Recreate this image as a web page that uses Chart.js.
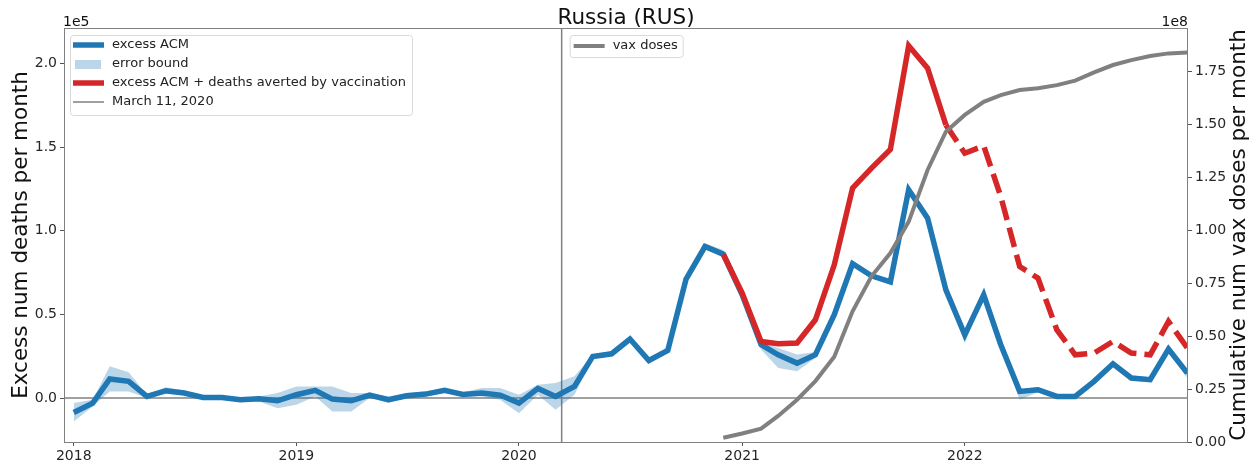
<!DOCTYPE html>
<html>
<head>
<meta charset="utf-8">
<script src="https://cdn.jsdelivr.net/npm/chart.js@4.4.0/dist/chart.umd.min.js"></script>
<style>
  html, body { margin: 0; padding: 0; background: #fff; }
</style>
</head>
<body>
<canvas id="chart" width="1259" height="466"></canvas>
<script>
// monthly points, Jan 2018 .. Jan 2023
const months = [];
for (let i = 0; i < 61; i++) {
    const y = 2018 + Math.floor(i / 12), m = i % 12 + 1;
    months.push(y + '-' + String(m).padStart(2, '0'));
}

const excessACM = [
    -8600, -3000, 11400, 10000, 1000, 4400, 3000, 400, 400, -1000, -400, -1600,
    2000, 4600, -600, -1600, 1800, -1000, 1400, 2400, 4600, 2200, 3000, 1800,
    -3000, 5800, 1000, 7000, 24900, 26500, 35300, 22500, 28500, 71100, 90600, 86000,
    61700, 31900, 25900, 20900, 25900, 49800, 80300, 73100, 69500, 124500, 107600, 64700,
    37800, 61700, 31900, 4000, 5000, 1000, 1000, 10000, 20500, 12000, 11000, 29300, 14900
];
const errLower = [
    -14000, -5000, 4000, 4000, 0, 2500, 2000, -500, -500, -2000, -2000, -6000,
    -4000, 1000, -8000, -8000, 0, -3000, 0, 1000, 3000, 1000, 1000, -1000,
    -9000, 2000, -7000, 2000, 23500, 25000, 34000, 21000, 27000, 70000, 89000, 84000,
    60000, 29000, 18000, 16000, 24000, 48500, 79000, 72000, 68000, 123000, 106000, 63000,
    33000, 60000, 30000, -1000, 3500, -500, -500, 8500, 19000, 10500, 9500, 27000, 12000
];
const errUpper = [
    -3000, -1000, 19000, 15500, 2000, 6500, 4500, 1500, 1500, 0, 1000, 3000,
    7000, 7000, 7000, 3000, 3000, 1000, 3000, 3500, 6000, 3500, 6000, 6000,
    2000, 8000, 9000, 13000, 26000, 28000, 36500, 24000, 30000, 72500, 92500, 88500,
    64000, 34000, 30000, 26000, 27500, 51000, 81500, 74500, 71000, 126000, 109000, 66500,
    39000, 63000, 33500, 5500, 6500, 2500, 2500, 11500, 22000, 13500, 12500, 32000, 17000
];
const withAverted = [
    null, null, null, null, null, null, null, null, null, null, null, null,
    null, null, null, null, null, null, null, null, null, null, null, null,
    null, null, null, null, null, null, null, null, null, null, null, 86000,
    62700, 33900, 32500, 32900, 46800, 79700, 125500, 137500, 148600, 210600, 197200, 163300,
    146400, 150800, 120500, 78700, 71700, 40800, 25900, 26900, 33900, 26900, 25900, 45800, 29900
];
const vaxDoses = [
    null, null, null, null, null, null, null, null, null, null, null, null,
    null, null, null, null, null, null, null, null, null, null, null, null,
    null, null, null, null, null, null, null, null, null, null, null, 2.0e6,
    4.0e6, 6.3e6, 12.3e6, 20.0e6, 28.8e6, 40.3e6, 61.8e6, 78.3e6, 89.3e6, 104.2e6, 128.6e6, 146.7e6,
    154.6e6, 160.8e6, 164.0e6, 166.4e6, 167.2e6, 168.7e6, 170.8e6, 174.7e6, 178.2e6, 180.5e6, 182.5e6, 183.7e6, 184.1e6
];
const dashedFrom = '2021-12';      // projection part of the red line
const markerDate = '2020-03-11';
const yearTicks = [2018, 2019, 2020, 2021, 2022];
const leftTicks = [0, 50000, 100000, 150000, 200000];
const rightTicks = [0, 25e6, 50e6, 75e6, 100e6, 125e6, 150e6, 175e6];

// x axis is in days since Jan 1 2018
const day0 = Date.UTC(2018, 0, 1);
const toDay = s => {
    const p = s.split('-').map(Number);
    return (Date.UTC(p[0], p[1] - 1, p[2] || 1) - day0) / 86400000;
};
const pts = arr => arr.map((v, i) => ({x: toDay(months[i]), y: v}));
const dashIdx = months.indexOf(dashedFrom);

const BLUE = '#1f77b4', RED = '#d62728', GRAY = '#808080';
Chart.defaults.font.family = 'DejaVu Sans';
Chart.defaults.color = '#262626';

const decor = {
    id: 'decor',
    beforeDatasetsDraw(chart) {
        const {ctx, chartArea: a, scales} = chart;
        ctx.save();
        ctx.strokeStyle = GRAY;
        ctx.lineWidth = 1.5;
        const y0 = scales.y.getPixelForValue(0);
        ctx.beginPath(); ctx.moveTo(a.left, y0); ctx.lineTo(a.right, y0); ctx.stroke();
        const xm = scales.x.getPixelForValue(toDay(markerDate));
        ctx.beginPath(); ctx.moveTo(xm, a.top); ctx.lineTo(xm, a.bottom); ctx.stroke();
        ctx.restore();
    },
    afterDraw(chart) {
        const {ctx, chartArea: a} = chart;
        ctx.save();
        // frame
        ctx.strokeStyle = GRAY;
        ctx.lineWidth = 1;
        ctx.strokeRect(a.left + 0.5, a.top + 0.5, a.right - a.left - 1, a.bottom - a.top);

        ctx.fillStyle = '#111';
        ctx.font = '21.5px "DejaVu Sans"';
        ctx.textAlign = 'center';
        ctx.textBaseline = 'alphabetic';
        ctx.fillText('Russia (RUS)', (a.left + a.right) / 2, 24);

        ctx.font = '14px "DejaVu Sans"';
        ctx.textAlign = 'left';
        ctx.fillText('1e5', a.left - 1, 26);
        ctx.textAlign = 'right';
        ctx.fillText('1e8', a.right, 26);

        // axis titles, both read bottom to top
        const midY = (a.top + a.bottom) / 2;
        ctx.font = '21.5px "DejaVu Sans"';
        ctx.textAlign = 'center';
        ctx.textBaseline = 'middle';
        ctx.save();
        ctx.translate(21, midY); ctx.rotate(-Math.PI / 2);
        ctx.fillText('Excess num deaths per month', 0, 0);
        ctx.restore();
        ctx.save();
        ctx.translate(1239, midY); ctx.rotate(-Math.PI / 2);
        ctx.fillText('Cumulative num vax doses per month', 0, 0);
        ctx.restore();

        // legends
        const box = (x, y, w, h) => {
            ctx.beginPath();
            ctx.roundRect(x + 0.5, y + 0.5, w, h, 3);
            ctx.fillStyle = 'rgba(255,255,255,0.8)';
            ctx.fill();
            ctx.strokeStyle = '#d9d9d9';
            ctx.lineWidth = 1;
            ctx.stroke();
        };
        const line = (x, y, color, w) => {
            ctx.beginPath();
            ctx.moveTo(x, y); ctx.lineTo(x + 31, y);
            ctx.strokeStyle = color; ctx.lineWidth = w; ctx.stroke();
        };
        ctx.font = '13px "DejaVu Sans"';
        ctx.textAlign = 'left';
        ctx.textBaseline = 'middle';

        const lx = a.left + 6, ly = a.top + 7;
        box(lx, ly, 342, 80);
        const rows = [
            ['excess ACM', () => line(lx + 3, ly + 10, BLUE, 5.5)],
            ['error bound', () => { ctx.fillStyle = 'rgba(31,119,180,0.3)'; ctx.fillRect(lx + 5, ly + 25, 26, 9); }],
            ['excess ACM + deaths averted by vaccination', () => line(lx + 3, ly + 48, RED, 5.5)],
            ['March 11, 2020', () => line(lx + 3, ly + 67, GRAY, 1.5)]
        ];
        rows.forEach((r, i) => {
            r[1]();
            ctx.fillStyle = '#222';
            ctx.fillText(r[0], lx + 42, ly + 10 + i * 19);
        });

        const vx = chart.scales.x.getPixelForValue(toDay(markerDate)) + 8, vy = a.top + 7;
        box(vx, vy, 113, 22);
        line(vx + 4, vy + 11, GRAY, 4);
        ctx.fillStyle = '#222';
        ctx.fillText('vax doses', vx + 43, vy + 11);
        ctx.restore();
    }
};

const tickGrid = {display: true, drawOnChartArea: false, drawTicks: true, tickLength: 4, color: '#555'};

new Chart(document.getElementById('chart'), {
    type: 'line',
    data: {
        datasets: [
            {
                label: 'vax doses', data: pts(vaxDoses), yAxisID: 'y1',
                borderColor: GRAY, borderWidth: 4, pointRadius: 0, tension: 0
            },
            {
                label: 'excess ACM + deaths averted by vaccination', data: pts(withAverted), yAxisID: 'y',
                borderColor: RED, borderWidth: 5.5, pointRadius: 0, tension: 0,
                segment: { borderDash: c => c.p0DataIndex >= dashIdx ? [20, 8] : undefined }
            },
            {
                label: 'excess ACM', data: pts(excessACM), yAxisID: 'y',
                borderColor: BLUE, borderWidth: 5.5, pointRadius: 0, tension: 0
            },
            {
                label: 'lower', data: pts(errLower), yAxisID: 'y',
                borderWidth: 0, borderColor: 'rgba(0,0,0,0)', pointRadius: 0, tension: 0, fill: false
            },
            {
                label: 'error bound', data: pts(errUpper), yAxisID: 'y',
                borderWidth: 0, borderColor: 'rgba(0,0,0,0)', pointRadius: 0, tension: 0,
                fill: '-1', backgroundColor: 'rgba(31,119,180,0.3)'
            }
        ]
    },
    options: {
        responsive: false,
        animation: false,
        layout: { padding: { top: 28, left: 0, right: 0, bottom: 0 } },
        plugins: { legend: { display: false }, tooltip: { enabled: false } },
        scales: {
            x: {
                type: 'linear', min: -16, max: 1827,
                grid: tickGrid, border: { display: false },
                afterBuildTicks: s => { s.ticks = yearTicks.map(y => ({value: toDay(y + '-01-01')})); },
                ticks: {
                    font: { size: 14 }, padding: 2, maxRotation: 0,
                    callback: v => String(yearTicks.find(y => toDay(y + '-01-01') === v))
                },
                afterFit: s => { s.height = 24; }
            },
            y: {
                position: 'left', min: -26250, max: 221250,
                grid: tickGrid, border: { display: false },
                afterBuildTicks: s => { s.ticks = leftTicks.map(v => ({value: v})); },
                ticks: { font: { size: 14 }, padding: 3, callback: v => (v / 1e5).toFixed(1) },
                afterFit: s => { s.width = 64; }
            },
            y1: {
                position: 'right', min: 0, max: 195.7e6,
                grid: tickGrid, border: { display: false },
                afterBuildTicks: s => { s.ticks = rightTicks.map(v => ({value: v})); },
                ticks: { font: { size: 14 }, padding: 3, callback: v => (v / 1e8).toFixed(2) },
                afterFit: s => { s.width = 71; }
            }
        }
    },
    plugins: [decor]
});
</script>
</body>
</html>
